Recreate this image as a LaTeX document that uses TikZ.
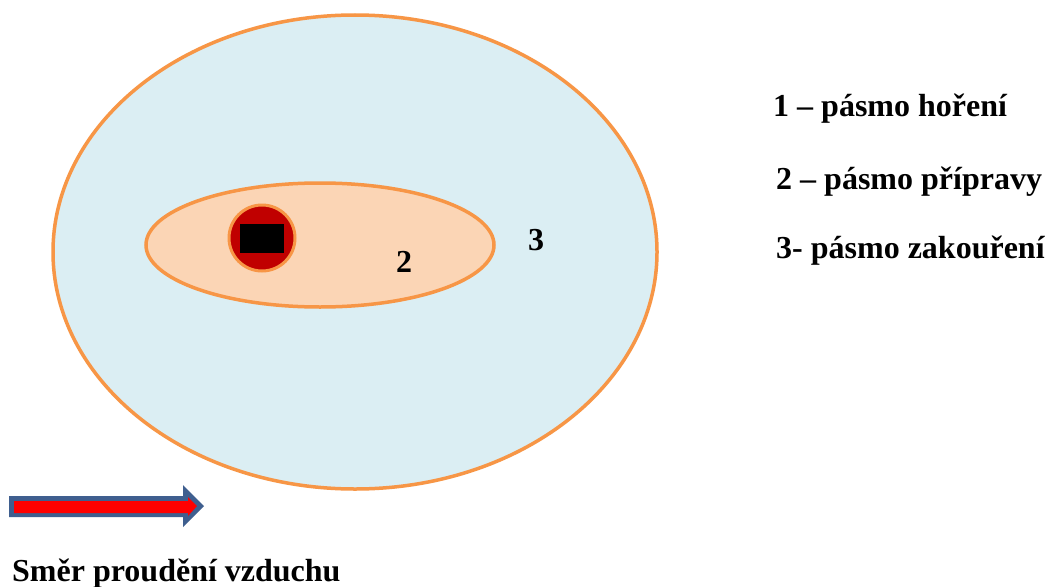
\documentclass[tikz,border=0pt]{standalone}
\usepackage{fontspec}
\setmainfont{Liberation Serif}
\definecolor{zoneline}{HTML}{F79646}
\definecolor{smokefill}{HTML}{DBEEF3}
\definecolor{prepfill}{HTML}{FBD5B5}
\definecolor{burnfill}{HTML}{C00000}
\definecolor{arrowblue}{HTML}{3F5F8F}
\begin{document}
\begin{tikzpicture}[x=1pt,y=-1pt,
  zone/.style={draw=zoneline,line width=3.5pt},
  lbl/.style={font=\bfseries\fontsize{32}{36}\selectfont,inner sep=0pt,anchor=base west}]
\useasboundingbox (0,0) rectangle (1048,586);
\fill[white] (0,0) rectangle (1048,586);
\path[zone,fill=smokefill] (355,252) ellipse [x radius=302,y radius=237];
\path[zone,fill=prepfill] (320,245) ellipse [x radius=174,y radius=62];
\node[circle,draw=zoneline,line width=3pt,fill=burnfill,minimum size=66pt,inner sep=0pt] (burn) at (262,238) {};
\node[fill=black,minimum width=44pt,minimum height=29pt,inner sep=0pt] (core) at (burn.center) {};
\node[lbl,anchor=base] (two) at (404,272) {2};
\node[lbl,anchor=base] (three) at (536,250) {3};
\node[lbl] (l1) at (773,116) {1 – pásmo hoření};
\node[lbl] (l2) at (776,189) {2 – pásmo přípravy};
\node[lbl] (l3) at (776,258) {3- pásmo zakouření};
\node[lbl] (dir) at (12,581) {Směr proudění vzduchu};
\fill[arrowblue] (9,496) -- (183,496) -- (183,485) -- (204,506) -- (183,527) -- (183,517) -- (9,517) -- cycle;
\fill[red] (14,501) -- (188,501) -- (188,497) -- (197,506) -- (188,516) -- (188,513) -- (14,513) -- cycle;
\end{tikzpicture}
\end{document}
